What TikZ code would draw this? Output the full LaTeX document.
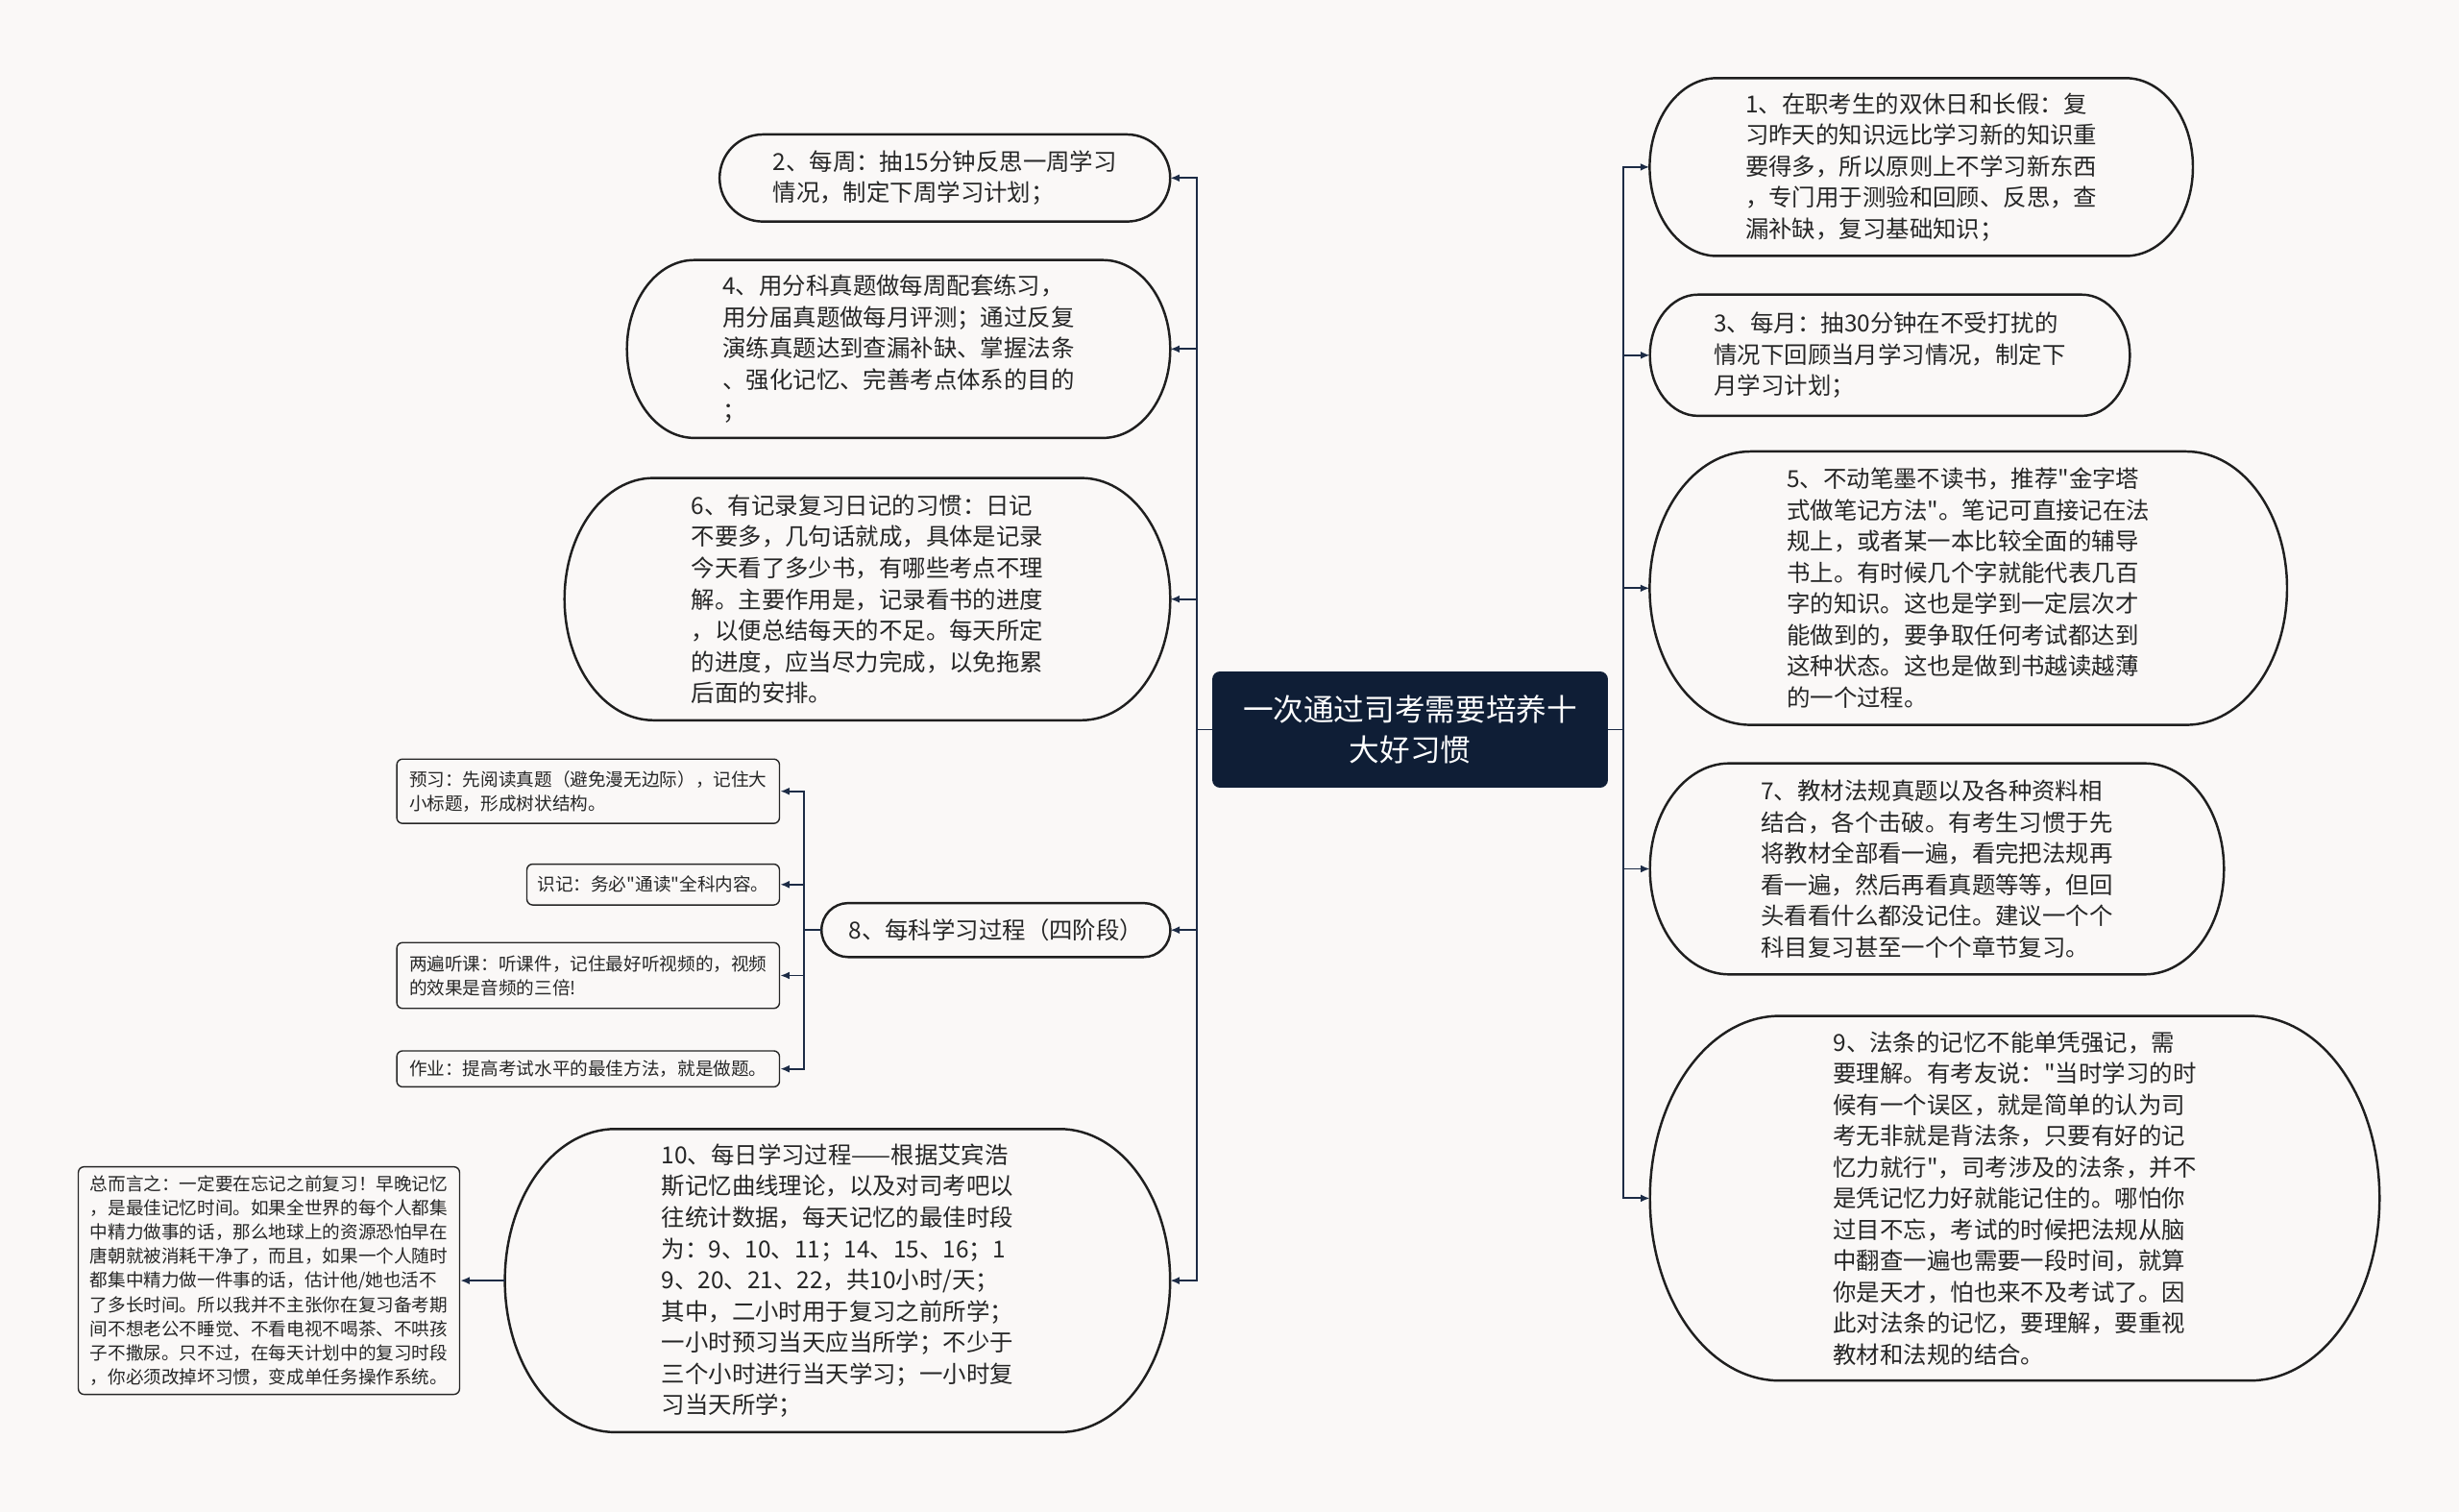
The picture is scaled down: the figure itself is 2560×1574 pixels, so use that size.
\documentclass[tikz,border=0pt]{standalone}
\usepackage{fontspec}
\setmainfont[Ligatures=TeXOff]{Noto Sans CJK SC}
\usepackage{tikz}
\usetikzlibrary{arrows.meta,calc}
\definecolor{NightBlue}{HTML}{0F1E36}
\definecolor{LinkBlue}{HTML}{1C2B45}
\definecolor{PaperWhite}{HTML}{FAF8F7}
\definecolor{InkGray}{HTML}{262626}

\begin{document}
\begin{tikzpicture}[x=0.02cm,y=-0.02cm,
  habit/.style={font=\fontsize{13.9}{18.5}\selectfont,align=left,inner sep=0pt,text=InkGray},
  phase/.style={draw=InkGray,line width=0.8pt,rounded corners=0.12cm,
                font=\fontsize{10.6}{14.3}\selectfont,align=left,inner sep=0pt,text=InkGray},
  pillline/.style={draw=black!88,line width=1.4pt},
  link/.style={draw=LinkBlue,line width=1.1pt,-{Latex[length=5.5pt,width=4.5pt]}}]

\fill[PaperWhite] (0,0) rectangle (2560,1574);
\useasboundingbox (0,0) rectangle (2560,1574);

% centre
\node[fill=NightBlue,rounded corners=0.16cm,minimum width=8.24cm,minimum height=2.42cm,
      font=\fontsize{18}{24}\selectfont,text=white,align=center] (c) at (1468,759.5)
{一次通过司考需要培养十\\大好习惯};

% right side
\node[habit,minimum width=11.30cm,minimum height=3.69cm] (h1) at (2000.2,173.9)
{1、在职考生的双休日和长假：复\\习昨天的知识远比学习新的知识重\\要得多，所以原则上不学习新东西\\，专门用于测验和回顾、反思，查\\漏补缺，复习基础知识；};
\node[habit,minimum width=9.98cm,minimum height=2.51cm] (h3) at (1967.5,369.8)
{3、每月：抽30分钟在不受打扰的\\情况下回顾当月学习情况，制定下\\月学习计划；};
\node[habit,minimum width=13.26cm,minimum height=5.68cm] (h5) at (2049.2,612.3)
{5、不动笔墨不读书，推荐"金字塔\\式做笔记方法"。笔记可直接记在法\\规上，或者某一本比较全面的辅导\\书上。有时候几个字就能代表几百\\字的知识。这也是学到一定层次才\\能做到的，要争取任何考试都达到\\这种状态。这也是做到书越读越薄\\的一个过程。};
\node[habit,minimum width=11.94cm,minimum height=4.38cm] (h7) at (2016.5,904.5)
{7、教材法规真题以及各种资料相\\结合，各个击破。有考生习惯于先\\将教材全部看一遍，看完把法规再\\看一遍，然后再看真题等等，但回\\头看看什么都没记住。建议一个个\\科目复习甚至一个个章节复习。};
\node[habit,minimum width=15.18cm,minimum height=7.58cm] (h9) at (2097.5,1247.4)
{9、法条的记忆不能单凭强记，需\\要理解。有考友说："当时学习的时\\候有一个误区，就是简单的认为司\\考无非就是背法条，只要有好的记\\忆力就行"，司考涉及的法条，并不\\是凭记忆力好就能记住的。哪怕你\\过目不忘，考试的时候把法规从脑\\中翻查一遍也需要一段时间，就算\\你是天才，怕也来不及考试了。因\\此对法条的记忆，要理解，要重视\\教材和法规的结合。};

% left side
\node[habit,minimum width=9.37cm,minimum height=1.80cm] (h2) at (983.7,185.3)
{2、每周：抽15分钟反思一周学习\\情况，制定下周学习计划；};
\node[habit,minimum width=11.30cm,minimum height=3.69cm] (h4) at (935.5,363.3)
{4、用分科真题做每周配套练习，\\用分届真题做每月评测；通过反复\\演练真题达到查漏补缺、掌握法条\\、强化记忆、完善考点体系的目的\\；};
\node[habit,minimum width=12.60cm,minimum height=5.03cm] (h6) at (903,623.7)
{6、有记录复习日记的习惯：日记\\不要多，几句话就成，具体是记录\\今天看了多少书，有哪些考点不理\\解。主要作用是，记录看书的进度\\，以便总结每天的不足。每天所定\\的进度，应当尽力完成，以免拖累\\后面的安排。};
\node[habit,minimum width=7.25cm,minimum height=1.11cm] (h8) at (1036.8,968.2)
{8、每科学习过程（四阶段）};
\node[habit,minimum width=13.84cm,minimum height=6.30cm] (h10) at (871.9,1333.1)
{10、每日学习过程——根据艾宾浩\\斯记忆曲线理论，以及对司考吧以\\往统计数据，每天记忆的最佳时段\\为：9、10、11；14、15、16；1\\9、20、21、22，共10小时/天；\\其中，二小时用于复习之前所学；\\一小时预习当天应当所学；不少于\\三个小时进行当天学习；一小时复\\习当天所学；};

% four phases
\node[phase,minimum width=7.97cm,minimum height=1.34cm] (p1) at (612.3,823.7)
{预习：先阅读真题（避免漫无边际），记住大\\小标题，形成树状结构。};
\node[phase,minimum width=5.26cm,minimum height=0.85cm] (p2) at (680,920.8)
{识记：务必"通读"全科内容。};
\node[phase,minimum width=7.97cm,minimum height=1.37cm] (p3) at (612.3,1015.5)
{两遍听课：听课件，记住最好听视频的，视频\\的效果是音频的三倍!};
\node[phase,minimum width=7.97cm,minimum height=0.75cm] (p4) at (612.3,1112.7)
{作业：提高考试水平的最佳方法，就是做题。};
\node[phase,minimum width=7.94cm,minimum height=4.74cm] (s) at (280,1333.1)
{总而言之：一定要在忘记之前复习！早晚记忆\\，是最佳记忆时间。如果全世界的每个人都集\\中精力做事的话，那么地球上的资源恐怕早在\\唐朝就被消耗干净了，而且，如果一个人随时\\都集中精力做一件事的话，估计他/她也活不\\了多长时间。所以我并不主张你在复习备考期\\间不想老公不睡觉、不看电视不喝茶、不哄孩\\子不撒尿。只不过，在每天计划中的复习时段\\，你必须改掉坏习惯，变成单任务操作系统。};

% pill outlines
\foreach \nm/\rr in {h1/1.4cm,h3/1.0cm,h5/2.1cm,h7/1.65cm,h9/2.7cm,
                     h2/0.9cm,h4/1.4cm,h6/1.85cm,h8/0.555cm,h10/2.3cm}
  \draw[pillline] let \p1=(\nm.north west),\p2=(\nm.south east),\n1={(\y1-\y2)/2} in
    (\x1+\rr,\y1) -- (\x2-\rr,\y1) arc[start angle=90,end angle=-90,x radius=\rr,y radius=\n1]
    -- (\x1+\rr,\y2) arc[start angle=270,end angle=90,x radius=\rr,y radius=\n1] -- cycle;

% connectors
\foreach \k in {h1,h3,h5,h7,h9}
  \draw[link] (c.east) -- ++(16,0) |- (\k.west);
\foreach \k in {h2,h4,h6,h8,h10}
  \draw[link] (c.west) -- ++(-16,0) |- (\k.east);
\foreach \k in {p1,p2,p3,p4}
  \draw[link] (h8.west) -- ++(-18,0) |- (\k.east);
\draw[link] (h10.west) -- (s.east);
\end{tikzpicture}
\end{document}
